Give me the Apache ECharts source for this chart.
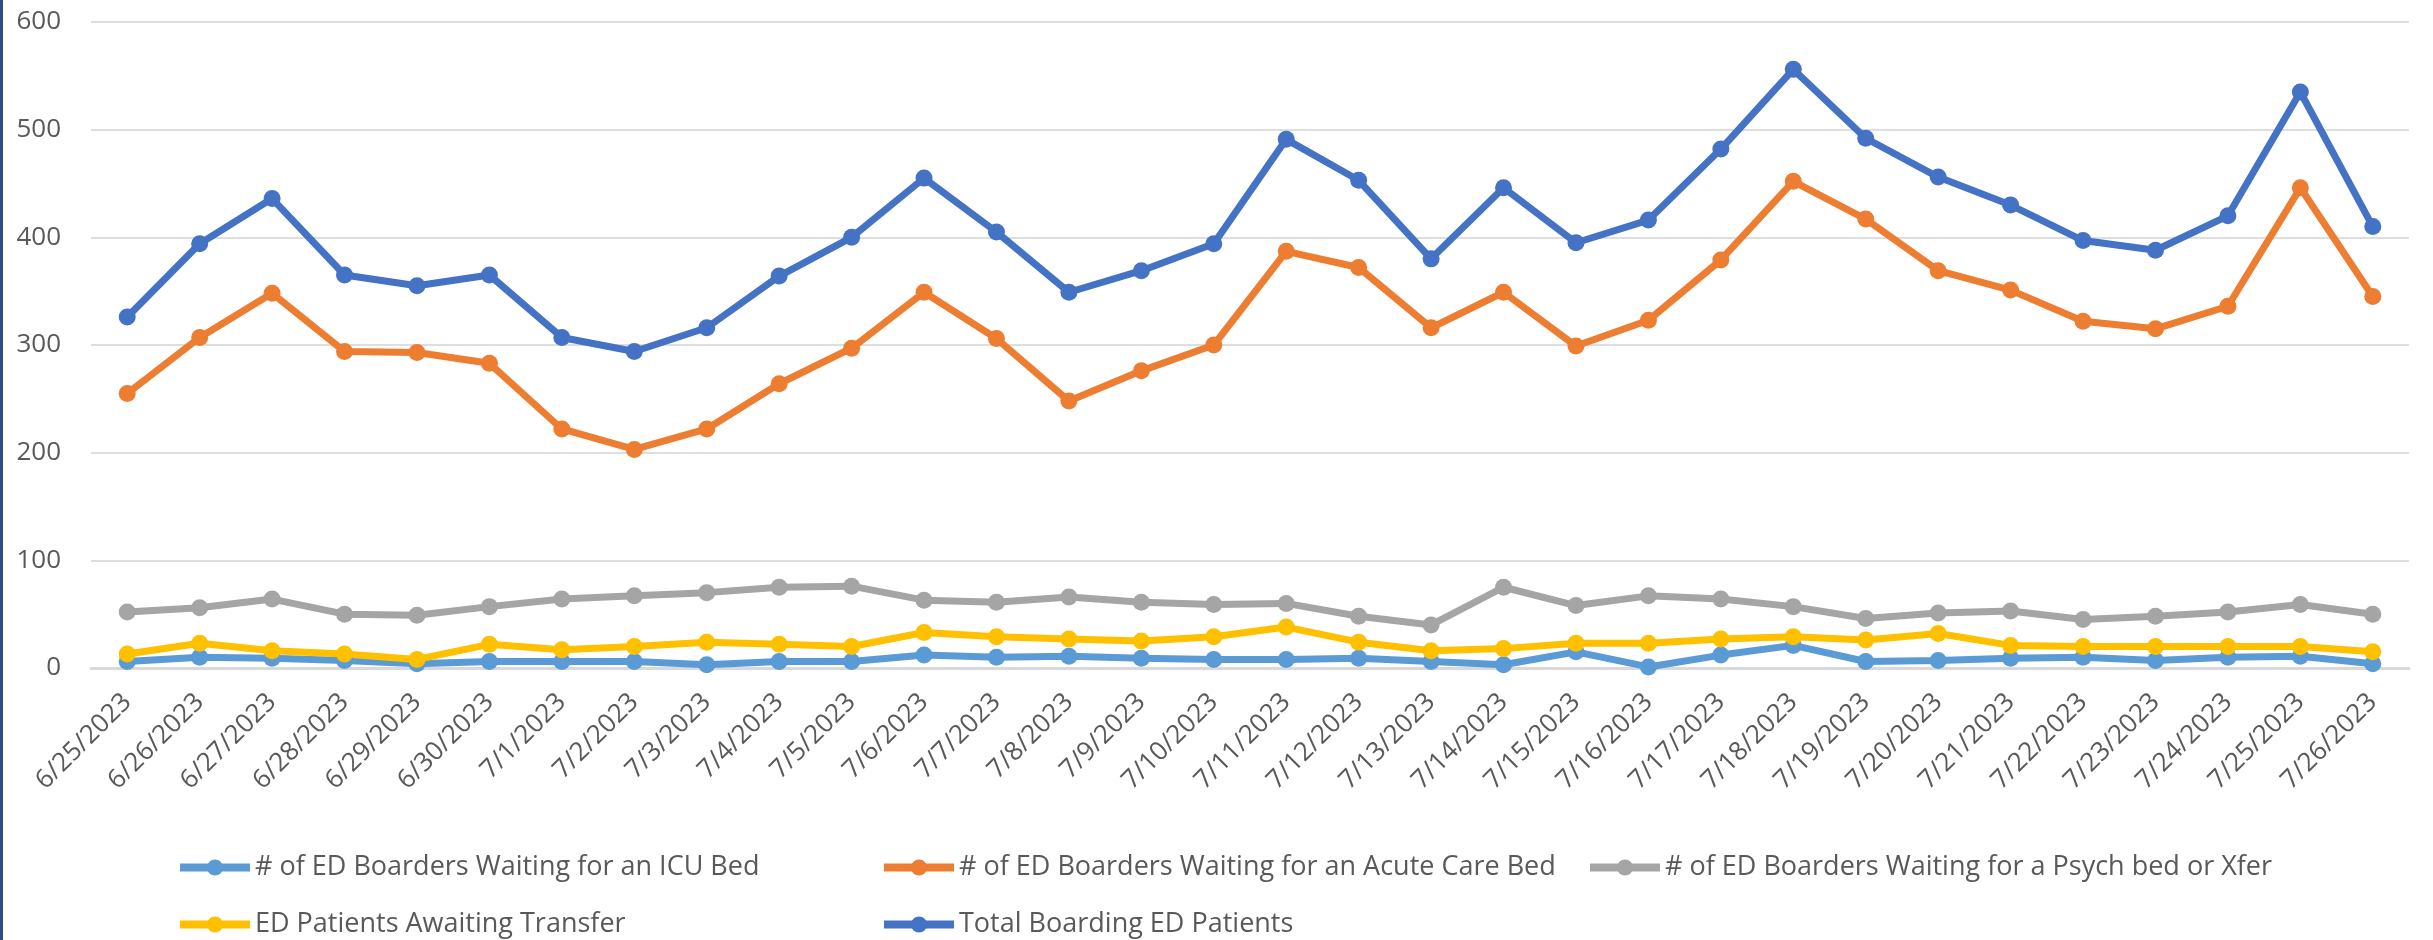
<!DOCTYPE html>
<html>
<head>
<meta charset="utf-8">
<script src="https://cdn.jsdelivr.net/npm/echarts@6/dist/echarts.min.js"></script>
<style>
  html, body { margin: 0; padding: 0; background: #fff; }
  #chart { width: 2433px; height: 940px; }
</style>
</head>
<body>
<div id="chart"></div>
<script>
var dates = ['6/25/2023', '6/26/2023', '6/27/2023', '6/28/2023', '6/29/2023', '6/30/2023',
  '7/1/2023', '7/2/2023', '7/3/2023', '7/4/2023', '7/5/2023', '7/6/2023', '7/7/2023', '7/8/2023',
  '7/9/2023', '7/10/2023', '7/11/2023', '7/12/2023', '7/13/2023', '7/14/2023', '7/15/2023',
  '7/16/2023', '7/17/2023', '7/18/2023', '7/19/2023', '7/20/2023', '7/21/2023', '7/22/2023',
  '7/23/2023', '7/24/2023', '7/25/2023', '7/26/2023'];

var icuBed = [6, 10, 9, 7, 4, 6, 6, 6, 3, 6, 6, 12, 10, 11, 9, 8, 8, 9, 6, 3, 15, 1, 12, 21, 6, 7, 9, 10, 7, 10, 11, 4];
var acuteBed = [255, 307, 348, 294, 293, 283, 222, 203, 222, 264, 297, 349, 306, 248, 276, 300, 387, 372, 316, 349, 299, 323, 379, 452, 417, 369, 351, 322, 315, 336, 446, 345];
var psychBed = [52, 56, 64, 50, 49, 57, 64, 67, 70, 75, 76, 63, 61, 66, 61, 59, 60, 48, 40, 75, 58, 67, 64, 57, 46, 51, 53, 45, 48, 52, 59, 50];
var awaitTransfer = [13, 23, 16, 13, 8, 22, 17, 20, 24, 22, 20, 33, 29, 27, 25, 29, 38, 24, 16, 18, 23, 23, 27, 29, 26, 32, 21, 20, 20, 20, 20, 15];
var totalBoarding = [326, 394, 436, 365, 355, 365, 307, 294, 316, 364, 400, 455, 405, 349, 369, 394, 491, 453, 380, 446, 395, 416, 482, 556, 492, 456, 430, 397, 388, 420, 535, 410];

var names = [
  '# of ED Boarders Waiting for an ICU Bed',
  '# of ED Boarders Waiting for an Acute Care Bed',
  '# of ED Boarders Waiting for a Psych bed or Xfer',
  'ED Patients Awaiting Transfer',
  'Total Boarding ED Patients'
];
var colors = ['#5B9BD5', '#ED7D31', '#A5A5A5', '#FFC000', '#4472C4'];
var values = [icuBed, acuteBed, psychBed, awaitTransfer, totalBoarding];

// legend slots, Excel lays them out in fixed columns
var legendLeft = [171, 875, 1581, 171, 875];
var legendTop = [849, 849, 849, 906, 906];

var font = "'Open Sans', sans-serif";
var textColor = '#595959';

var myChart = echarts.init(document.getElementById('chart'));

var _series = values.map(function (d, i) {
  return {
    name: names[i],
    type: 'line',
    data: d,
    symbol: 'circle',
    symbolSize: 17,
    showSymbol: true,
    color: colors[i],
    lineStyle: { width: 7 },
    emphasis: { disabled: true }
  };
});

var _legends = names.map(function (n, i) {
  return {
    data: [n],
    left: legendLeft[i],
    top: legendTop[i],
    itemWidth: 70,
    itemHeight: 20,
    itemGap: 0,
    lineStyle: { width: 8 },
    textStyle: {
      fontSize: 27,
      color: textColor,
      fontFamily: font
    }
  };
});

myChart.setOption({
  animation: false,
  backgroundColor: '#fff',
  grid: { left: 91, right: 24, top: 22, bottom: 272, containLabel: false },
  legend: _legends,
  xAxis: {
    type: 'category',
    data: dates,
    boundaryGap: true,
    axisTick: { show: false },
    axisLine: { lineStyle: { color: '#D9D9D9', width: 3 } },
    axisLabel: {
      interval: 0,
      rotate: 45,
      margin: 30,
      fontSize: 26,
      color: textColor,
      fontFamily: font
    }
  },
  yAxis: {
    type: 'value',
    min: 0,
    max: 600,
    interval: 100,
    axisLine: { show: false },
    axisTick: { show: false },
    splitLine: { lineStyle: { color: '#DEDEDE', width: 2 } },
    axisLabel: {
      margin: 30,
      fontSize: 26,
      color: textColor,
      fontFamily: font
    }
  },
  graphic: [{
    type: 'rect',
    left: 0,
    top: 0,
    shape: { width: 3, height: 940 },
    style: { fill: '#2F4A85' }
  }],
  series: _series
});
</script>
</body>
</html>
